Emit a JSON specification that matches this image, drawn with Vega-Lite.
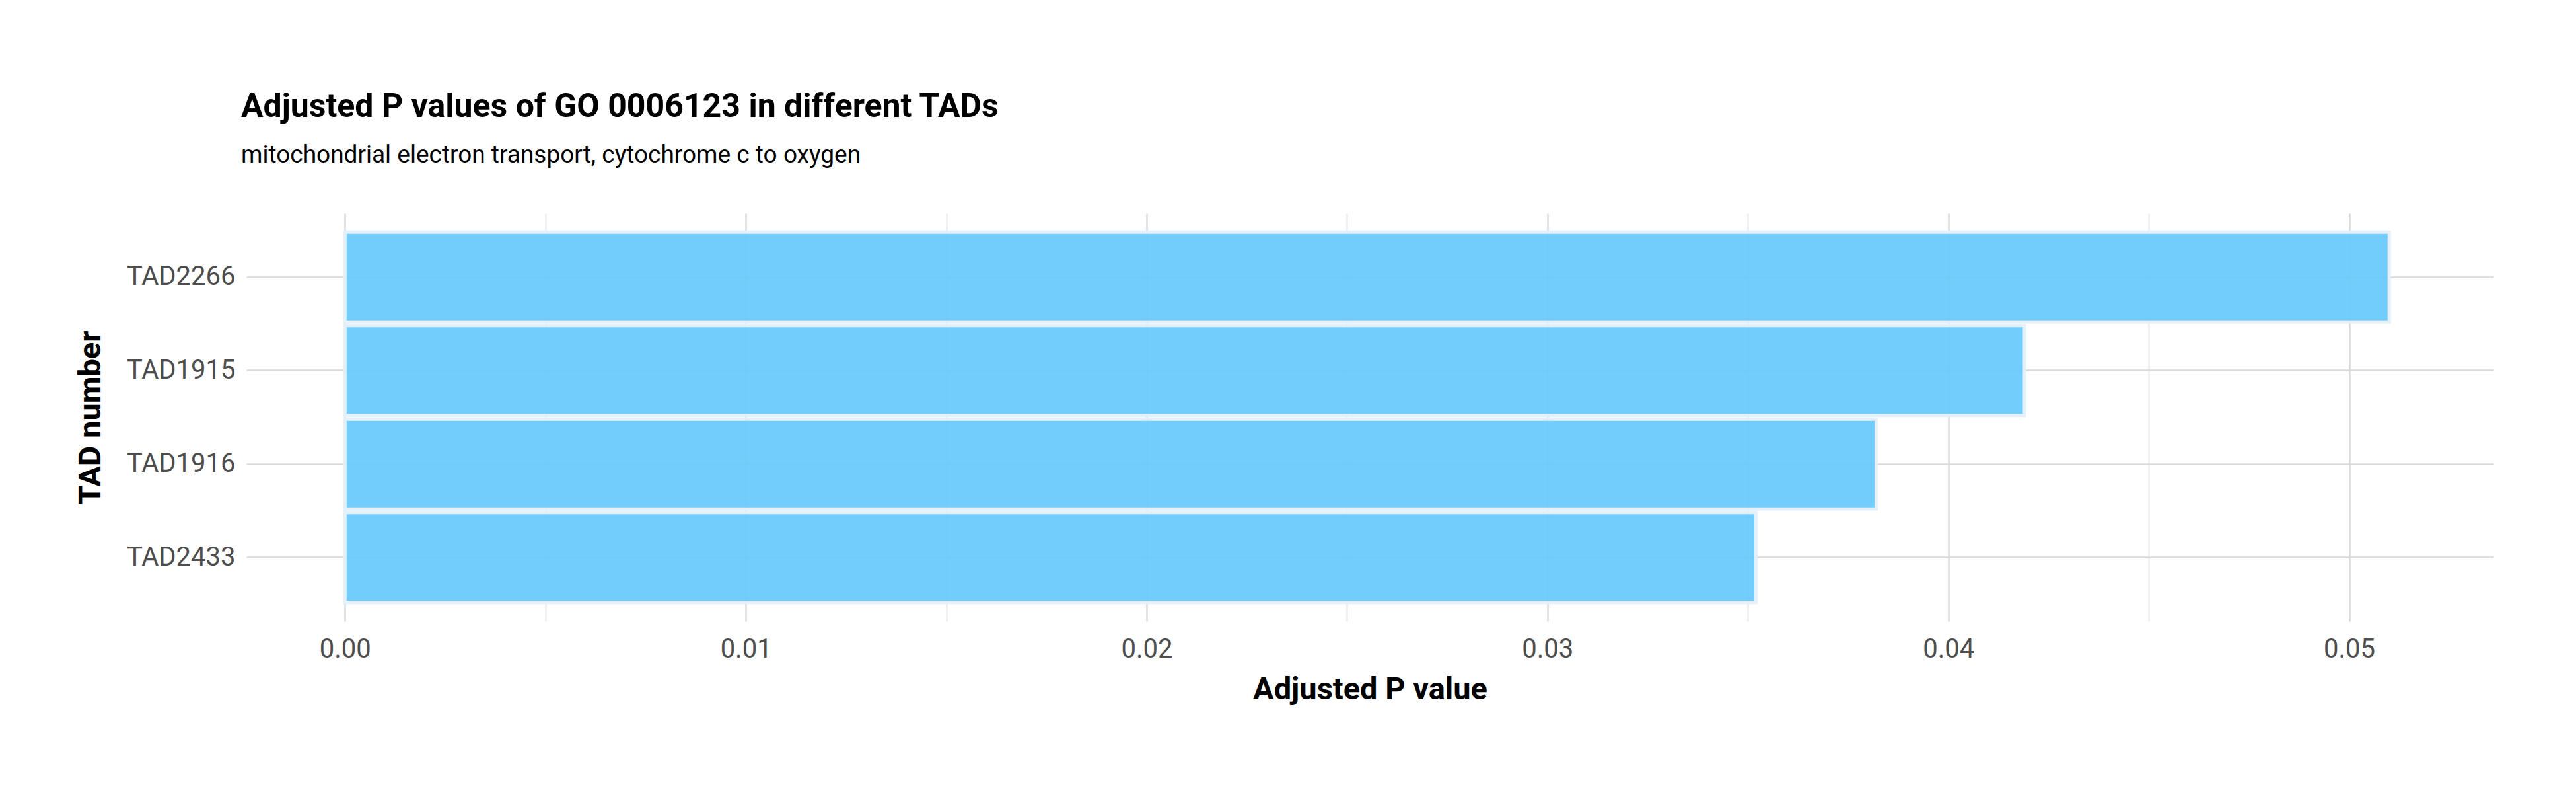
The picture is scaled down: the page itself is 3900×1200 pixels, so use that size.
{
  "$schema": "https://vega.github.io/schema/vega-lite/v6.json",
  "width": 3402,
  "height": 617,
  "autosize": "none",
  "padding": {"left": 373, "top": 323, "right": 125, "bottom": 260},
  "background": "white",
  "title": {
    "text": "Adjusted P values of GO 0006123 in different TADs",
    "subtitle": "mitochondrial electron transport, cytochrome c to oxygen",
    "anchor": "start",
    "frame": "group",
    "fontSize": 50,
    "fontWeight": "bold",
    "font": "Roboto",
    "color": "black",
    "subtitleFontSize": 37,
    "subtitleFont": "Roboto",
    "subtitleColor": "black",
    "subtitlePadding": 30,
    "offset": 70,
    "dx": -8
  },
  "data": {
    "values": [
      {"tad": "TAD2266", "padj": 0.0510},
      {"tad": "TAD1915", "padj": 0.0419},
      {"tad": "TAD1916", "padj": 0.0382},
      {"tad": "TAD2433", "padj": 0.0352}
    ]
  },
  "mark": {"type": "bar", "color": "#6CCBFC", "opacity": 0.95, "stroke": "#E3F1FA", "strokeWidth": 5},
  "encoding": {
    "x": {
      "field": "padj",
      "type": "quantitative",
      "title": "Adjusted P value",
      "scale": {"domain": [-0.00246, 0.0536], "nice": false, "zero": false},
      "axis": {
        "values": [0, 0.005, 0.01, 0.015, 0.02, 0.025, 0.03, 0.035, 0.04, 0.045, 0.05],
        "labelExpr": "round(datum.value*1000) % 10 == 0 ? format(datum.value, '.2f') : ''",
        "gridColor": {"condition": {"test": "round(datum.value*1000) % 10 == 0", "value": "#DADADA"}, "value": "#EBEBEB"},
        "gridWidth": 2.5,
        "labelPadding": 22
      }
    },
    "y": {
      "field": "tad",
      "type": "nominal",
      "title": "TAD number",
      "sort": null,
      "scale": {"paddingInner": 0.04, "paddingOuter": 0.2},
      "axis": {"grid": true, "gridColor": "#DADADA", "gridWidth": 2.5, "labelPadding": 17, "titlePadding": 30}
    }
  },
  "config": {
    "font": "Roboto",
    "view": {"stroke": null},
    "axis": {
      "domain": false,
      "ticks": false,
      "labelFontSize": 40,
      "labelColor": "#4D4D4D",
      "labelFont": "Roboto",
      "titleFontSize": 47,
      "titleFontWeight": "bold",
      "titleColor": "black",
      "titleFont": "Roboto"
    },
    "axisX": {"titlePadding": 18}
  }
}
